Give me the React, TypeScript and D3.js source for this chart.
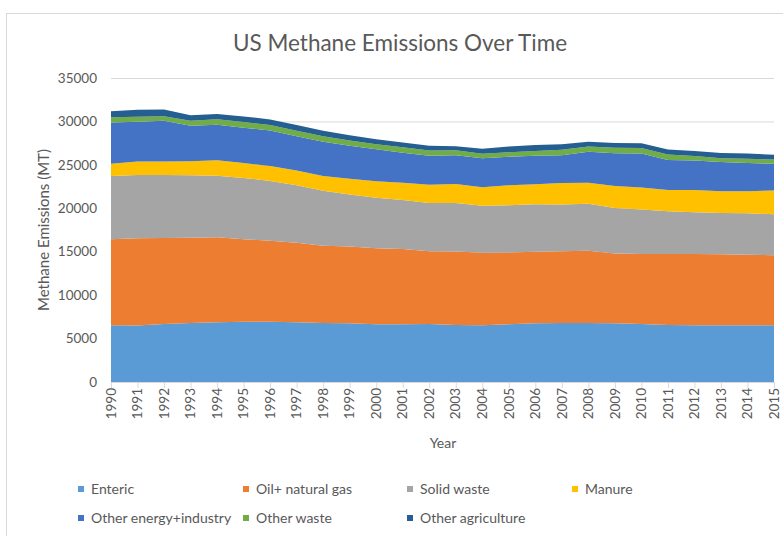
import React from "react";
import * as d3 from "d3";

const years = [1990, 1991, 1992, 1993, 1994, 1995, 1996, 1997, 1998, 1999, 2000, 2001, 2002, 2003, 2004, 2005, 2006, 2007, 2008, 2009, 2010, 2011, 2012, 2013, 2014, 2015];

const enteric = [6530, 6500, 6680, 6790, 6870, 6950, 6950, 6870, 6790, 6750, 6640, 6640, 6680, 6560, 6530, 6640, 6750, 6790, 6790, 6750, 6680, 6560, 6530, 6530, 6530, 6530];
const oilGas = [9900, 10040, 9900, 9830, 9790, 9480, 9320, 9170, 8910, 8850, 8760, 8660, 8370, 8460, 8360, 8270, 8240, 8270, 8330, 8050, 8060, 8180, 8210, 8190, 8130, 8050];
const solidWaste = [7290, 7290, 7250, 7170, 7090, 7070, 6880, 6610, 6330, 5980, 5800, 5650, 5570, 5580, 5390, 5450, 5470, 5370, 5390, 5230, 5120, 4910, 4810, 4730, 4760, 4730];
const manure = [1400, 1550, 1570, 1620, 1770, 1700, 1720, 1700, 1690, 1820, 1900, 2000, 2100, 2200, 2140, 2280, 2320, 2490, 2440, 2530, 2520, 2450, 2550, 2520, 2550, 2750];
const otherEnergy = [4760, 4590, 4670, 4080, 4110, 4080, 4100, 3950, 3930, 3790, 3700, 3440, 3340, 3300, 3330, 3300, 3260, 3180, 3560, 3790, 3930, 3460, 3400, 3350, 3240, 3060];
const otherWaste = [590, 580, 520, 580, 630, 640, 620, 640, 650, 610, 580, 630, 580, 570, 520, 500, 550, 650, 600, 610, 630, 630, 520, 450, 490, 490];
const otherAgriculture = [710, 790, 770, 630, 600, 660, 630, 650, 640, 620, 570, 550, 550, 460, 580, 670, 700, 610, 560, 560, 560, 580, 570, 600, 610, 560];

const seriesNames = ["Enteric", "Oil+ natural gas", "Solid waste", "Manure", "Other energy+industry", "Other waste", "Other agriculture"];
const seriesColors = ["#5B9BD5", "#ED7D31", "#A5A5A5", "#FFC000", "#4472C4", "#70AD47", "#255E91"];
const seriesValues = [enteric, oilGas, solidWaste, manure, otherEnergy, otherWaste, otherAgriculture];
const yTicks = [0, 5000, 10000, 15000, 20000, 25000, 30000, 35000];

const FONT = "Lato, 'Open Sans', sans-serif";
const TEXT = "#595959";

export default function App() {
  const W = 783, H = 536;
  const left = 111, right = 774, top = 78, bottom = 382;

  const x = d3.scaleLinear().domain([years[0], years[years.length - 1]]).range([left, right]);
  const y = d3.scaleLinear().domain([0, 35000]).range([bottom, top]);

  const rows = years.map((yr, i) => {
    const r: any = { year: yr };
    seriesNames.forEach((n, k) => (r[n] = seriesValues[k][i]));
    return r;
  });
  const stacked = d3.stack().keys(seriesNames)(rows);
  const area = d3
    .area<any>()
    .x((d) => x(d.data.year))
    .y0((d) => y(d[0]))
    .y1((d) => y(d[1]))
    .curve(d3.curveLinear);

  const legendPos = [
    [78, 489], [243, 489], [407, 489], [572, 489],
    [78, 518], [243, 518], [407, 518],
  ];

  return (
    <div style={{ position: "absolute", left: 0, top: 0 }}>
      <svg width={W} height={H} style={{ display: "block", background: "#fff" }}>
        <rect x={6.5} y={13.5} width={900} height={700} fill="#fff" stroke="#d9d9d9" />
        <text x={400} y={51} textAnchor="middle" fontFamily={FONT} fontSize={22.5} fill={TEXT}>
          US Methane Emissions Over Time
        </text>
        {yTicks.map((t) => (
          <g key={t}>
            <line x1={left} x2={right} y1={y(t) + 0.5} y2={y(t) + 0.5} stroke="#d9d9d9" />
            <text x={97} y={y(t)} dy="0.35em" textAnchor="end" fontFamily={FONT} fontSize={13.5} fill={TEXT}>
              {t}
            </text>
          </g>
        ))}
        {stacked.map((s, k) => (
          <path key={s.key} d={area(s as any) || ""} fill={seriesColors[k]} />
        ))}
        <line x1={left} x2={right} y1={bottom + 0.5} y2={bottom + 0.5} stroke="#d9d9d9" />
        {years.map((yr) => (
          <g key={yr}>
            <line x1={x(yr) + 0.5} x2={x(yr) + 0.5} y1={bottom} y2={bottom + 6} stroke="#d9d9d9" />
            <text
              transform={`translate(${x(yr)},${bottom + 6}) rotate(-90)`}
              dy="0.35em"
              textAnchor="end"
              fontFamily={FONT}
              fontSize={13.5}
              fill={TEXT}
            >
              {yr}
            </text>
          </g>
        ))}
        <text x={443} y={448} textAnchor="middle" fontFamily={FONT} fontSize={14} fill={TEXT}>
          Year
        </text>
        <text
          transform={`translate(49,${(top + bottom) / 2}) rotate(-90)`}
          textAnchor="middle"
          fontFamily={FONT}
          fontSize={15}
          fill={TEXT}
        >
          Methane Emissions (MT)
        </text>
        {seriesNames.map((n, k) => {
          const [cx, cy] = legendPos[k];
          return (
            <g key={n}>
              <rect x={cx} y={cy - 3} width={6} height={6} fill={seriesColors[k]} />
              <text x={cx + 13} y={cy} dy="0.35em" fontFamily={FONT} fontSize={14} fill={TEXT}>
                {n}
              </text>
            </g>
          );
        })}
      </svg>
    </div>
  );
}
